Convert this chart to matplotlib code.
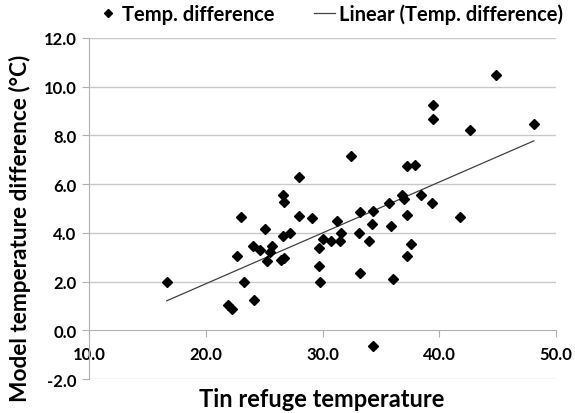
import numpy as np
import matplotlib
matplotlib.use('Agg')
import matplotlib.pyplot as plt

plt.rcParams['font.family'] = ['Lato', 'DejaVu Sans']
plt.rcParams['font.weight'] = 'bold'

# Tin refuge temperature vs model temperature difference
tin_temp = [16.65, 21.9, 22.2, 22.7, 23.0, 23.3, 24.0, 24.1, 24.65, 25.1,
            25.2, 25.5, 25.7, 26.4, 26.6, 26.6, 26.7, 26.7, 27.2, 28.0,
            28.0, 29.1, 29.7, 29.7, 29.8, 30.0, 30.7, 31.2, 31.5, 31.6,
            32.4, 33.1, 33.2, 33.2, 34.0, 34.2, 34.3, 34.3, 35.65, 35.85,
            36.0, 36.8, 37.0, 37.2, 37.2, 37.9, 37.2, 37.6, 38.4, 39.4,
            39.45, 39.5, 41.8, 42.65, 44.9, 48.1]
temp_diff = [2.0, 1.04, 0.86, 3.05, 4.64, 1.97, 3.48, 1.24, 3.29, 4.17,
             2.86, 3.21, 3.46, 2.88, 3.87, 5.57, 5.27, 2.98, 4.0, 6.28,
             4.68, 4.6, 3.39, 2.64, 2.0, 3.73, 3.65, 4.48, 3.68, 4.0,
             7.14, 4.0, 4.85, 2.34, 3.68, 4.37, 4.88, -0.64, 5.23, 4.3,
             2.09, 5.57, 5.37, 4.75, 6.76, 6.79, 3.07, 3.54, 5.57, 5.23,
             9.26, 8.66, 4.64, 8.22, 10.49, 8.47]

x_ticks = [10, 20, 30, 40, 50]
y_ticks = [-2, 0, 2, 4, 6, 8, 10, 12]

fig = plt.figure(figsize=(5.75, 4.14), dpi=100)
ax = fig.add_axes([0.155, 0.082, 0.812, 0.824])

ax.set_xlim(10, 50)
ax.set_ylim(-2, 12)

# horizontal gridlines, Excel style
for yv in y_ticks:
    if yv != 0:
        ax.axhline(yv, color='#c8c8c8', lw=1, zorder=0)

pts, = ax.plot(tin_temp, temp_diff, 'D', color='black', markersize=5.5,
               linestyle='none', label='Temp. difference', zorder=3)

# linear trendline
slope, icpt = np.polyfit(tin_temp, temp_diff, 1)
xs = np.array([min(tin_temp), max(tin_temp)])
trend, = ax.plot(xs, slope * xs + icpt, color='#404040', lw=0.9,
                 label='Linear (Temp. difference)', zorder=2)

ax.spines['top'].set_visible(False)
ax.spines['right'].set_visible(False)
ax.spines['bottom'].set_position(('data', 0))
ax.spines['bottom'].set_color('#b0b0b0')
ax.spines['left'].set_color('#b0b0b0')

ax.set_xticks(x_ticks)
ax.set_xticklabels([f'{v:.1f}' for v in x_ticks])
ax.set_yticks(y_ticks)
ax.set_yticklabels([f'{v:.1f}' for v in y_ticks])
ax.tick_params(axis='x', direction='out', length=5, color='#b0b0b0',
               labelsize=12, pad=6)
ax.tick_params(axis='y', direction='out', length=5, color='#b0b0b0',
               labelsize=12, pad=4)

fig.text(0.559, 0.034, 'Tin refuge temperature', ha='center', va='center',
         fontsize=17, fontweight='bold')
fig.text(0.035, 0.449, 'Model temperature difference (\u00b0C)', ha='center',
         va='center', rotation=90, fontsize=16.3, fontweight='bold')

fig.legend(handles=[pts, trend], loc='center', bbox_to_anchor=(0.574, 0.964),
           ncol=2, frameon=False, fontsize=14.5, handlelength=1.0,
           handletextpad=0.2, columnspacing=2.0, markerscale=0.75,
           borderpad=0, borderaxespad=0)

fig.savefig('out.png', dpi=100)
